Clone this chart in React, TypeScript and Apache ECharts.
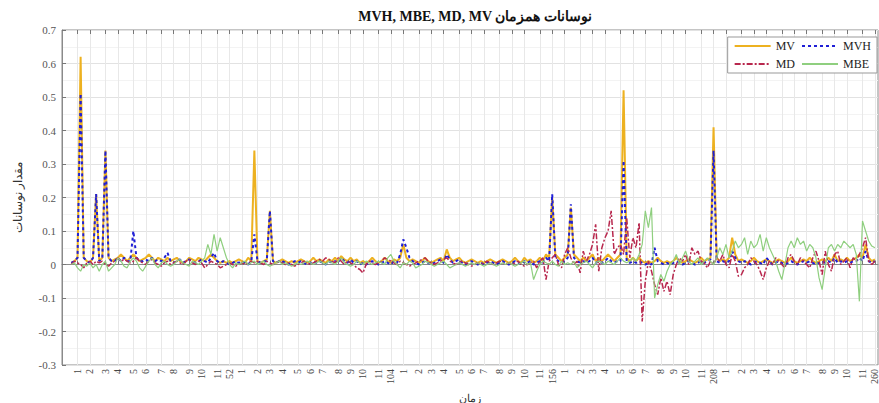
import React, { useEffect, useRef } from "react";
import * as echarts from "echarts";

const TITLE = "MVH, MBE, MD, MV نوسانات همزمان";
const Y_NAME = "مقدار نوسانات";
const X_NAME = "زمان";
const SERIES_NAMES = ["MV", "MVH", "MD", "MBE"];

// x axis spans weeks -2 .. 261; data for weeks 1..260
const FIRST_WEEK = -2;
const LAST_WEEK = 261;

const TICK_WEEKS = [
  3, 7, 12, 16, 21, 25, 30, 34, 39, 43, 48, 52,
  56, 61, 65, 69, 74, 78, 82, 87, 91, 95, 100, 104,
  108, 113, 117, 121, 126, 130, 134, 139, 143, 147, 152, 156,
  160, 165, 169, 173, 178, 182, 186, 191, 195, 199, 204, 208,
  212, 217, 221, 225, 230, 234, 238, 243, 247, 251, 256, 260,
];
const TICK_LABELS = [
  "1", "2", "3", "4", "5", "6", "7", "8", "9", "10", "11", "52",
  "1", "2", "3", "4", "5", "6", "7", "8", "9", "10", "11", "104",
  "1", "2", "3", "4", "5", "6", "7", "8", "9", "10", "11", "156",
  "1", "2", "3", "4", "5", "6", "7", "8", "9", "10", "11", "208",
  "1", "2", "3", "4", "5", "6", "7", "8", "9", "10", "11", "260",
];

const MV = [
  0.005, 0.01, 0.02, 0.62, 0.02, 0.01, 0.005, 0.02, 0.21, 0.01, 0.02, 0.34, 0.02, 0.01, 0.015, 0.02, 0.03, 0.02, 0.01, 0.02,
  0.03, 0.02, 0.01, 0.015, 0.02, 0.03, 0.02, 0.01, 0.02, 0.015, 0.01, 0.02, 0.01, 0.015, 0.02, 0.01, 0.005, 0.01, 0.02, 0.015,
  0.01, 0.02, 0.015, 0.01, 0.02, 0.03, 0.02, 0.01, 0.005, 0.01, 0.005, 0.01, 0.005, 0.01, 0.015, 0.01, 0.005, 0.02, 0.01, 0.34,
  0.01, 0.005, 0.01, 0.015, 0.16, 0.01, 0.005, 0.01, 0.015, 0.01, 0.005, 0.01, 0.005, 0.01, 0.015, 0.01, 0.005, 0.01, 0.02, 0.01,
  0.015, 0.01, 0.005, 0.015, 0.01, 0.02, 0.01, 0.025, 0.015, 0.01, 0.02, 0.01, 0.015, 0.005, 0.01, 0.005, 0.01, 0.02, 0.01, 0.005,
  0.01, 0.02, 0.01, 0.005, 0.015, 0.01, 0.02, 0.06, 0.02, 0.01, 0.015, 0.01, 0.005, 0.01, 0.02, 0.01, 0.005, 0.01, 0.015, 0.02,
  0.01, 0.045, 0.02, 0.01, 0.015, 0.02, 0.01, 0.005, 0.01, 0.015, 0.01, 0.005, 0.01, 0.005, 0.01, 0.015, 0.01, 0.005, 0.01, 0.015,
  0.01, 0.005, 0.01, 0.02, 0.01, 0.005, 0.02, 0.01, 0.015, 0.005, 0.01, 0.02, 0.01, 0.03, 0.02, 0.2, 0.03, 0.02, 0.01, 0.02,
  0.03, 0.17, 0.03, 0.02, 0.01, 0.02, 0.01, 0.02, 0.03, 0.01, 0.02, 0.01, 0.02, 0.03, 0.02, 0.01, 0.02, 0.03, 0.52, 0.02,
  0.01, 0.02, 0.01, 0.02, 0.01, 0.005, 0.01, 0.005, 0.01, 0.02, 0.01, 0.005, 0.01, 0.005, 0.01, 0.02, 0.01, 0.005, 0.01, 0.015,
  0.01, 0.005, 0.01, 0.02, 0.01, 0.015, 0.02, 0.41, 0.02, 0.01, 0.015, 0.01, 0.02, 0.08, 0.03, 0.01, 0.015, 0.01, 0.005, 0.01,
  0.02, 0.01, 0.005, 0.01, 0.015, 0.01, 0.005, 0.01, 0.015, 0.01, 0.005, 0.01, 0.02, 0.01, 0.005, 0.01, 0.015, 0.01, 0.02, 0.01,
  0.005, 0.01, 0.015, 0.01, 0.02, 0.01, 0.03, 0.01, 0.015, 0.01, 0.02, 0.01, 0.015, 0.02, 0.03, 0.02, 0.06, 0.02, 0.01, 0.015,
];

const MVH = [
  0.005, 0.01, 0.02, 0.51, 0.02, 0.01, 0.005, 0.02, 0.21, 0.01, 0.02, 0.34, 0.02, 0.01, 0.01, 0.02, 0.01, 0.02, 0.01, 0.01,
  0.1, 0.02, 0.01, 0.01, 0.015, 0.01, 0.02, 0.01, 0.015, 0.01, 0.02, 0.035, 0.01, 0.005, 0.01, 0.015, 0.005, 0.01, 0.015, 0.01,
  0.005, 0.01, 0.015, 0.01, 0.005, 0.02, 0.035, 0.01, 0.005, 0.01, 0.005, 0.0, 0.005, 0.01, 0.005, 0.01, 0.005, 0.0, 0.01, 0.09,
  0.01, 0.005, 0.01, 0.01, 0.16, 0.01, 0.005, 0.01, 0.01, 0.005, 0.0, 0.005, 0.01, 0.005, 0.01, 0.005, 0.0, 0.005, 0.01, 0.005,
  0.01, 0.005, 0.0, 0.01, 0.005, 0.01, 0.005, 0.02, 0.01, 0.005, 0.015, 0.005, 0.01, 0.0, 0.005, 0.0, 0.005, 0.01, 0.005, 0.0,
  0.005, 0.01, 0.005, 0.0, 0.01, 0.005, 0.03, 0.075, 0.05, 0.02, 0.01, 0.005, 0.0, 0.005, 0.01, 0.005, 0.0, 0.005, 0.01, 0.015,
  0.005, 0.03, 0.015, 0.005, 0.01, 0.015, 0.005, 0.0, 0.005, 0.01, 0.005, 0.0, 0.005, 0.0, 0.005, 0.01, 0.005, 0.0, 0.005, 0.01,
  0.005, 0.0, 0.005, 0.01, 0.005, 0.0, 0.01, 0.005, 0.01, 0.0, 0.005, 0.01, 0.005, 0.02, 0.01, 0.21, 0.02, 0.01, 0.005, 0.01,
  0.02, 0.18, 0.02, 0.01, 0.005, 0.01, 0.005, 0.01, 0.02, 0.005, 0.01, 0.005, 0.01, 0.02, 0.01, 0.005, 0.01, 0.01, 0.31, 0.01,
  0.005, 0.01, 0.005, 0.01, 0.005, 0.0, 0.005, 0.0, 0.05, 0.01, 0.005, 0.0, 0.005, 0.0, 0.005, 0.01, 0.005, 0.0, 0.005, 0.01,
  0.005, 0.0, 0.005, 0.01, 0.005, 0.01, 0.015, 0.34, 0.01, 0.005, 0.01, 0.005, 0.01, 0.04, 0.02, 0.01, 0.005, 0.01, 0.005, 0.0,
  0.005, 0.01, 0.005, 0.0, 0.02, 0.01, 0.0, 0.005, 0.01, 0.005, 0.0, 0.005, 0.01, 0.005, 0.0, 0.005, 0.01, 0.005, 0.01, 0.005,
  0.0, 0.005, 0.01, 0.005, 0.01, 0.005, 0.02, 0.005, 0.01, 0.005, 0.01, 0.005, 0.01, 0.01, 0.02, 0.01, 0.04, 0.01, 0.005, 0.01,
];

const MD = [
  0.0, 0.01, 0.005, 0.0, -0.01, 0.005, 0.01, 0.0, 0.01, 0.005, 0.01, 0.0, -0.005, 0.005, 0.01, 0.02, 0.01, 0.015, 0.01, 0.005,
  0.01, 0.02, 0.01, 0.005, 0.0, 0.01, 0.015, 0.005, 0.0, -0.005, 0.005, 0.01, 0.0, 0.005, 0.01, 0.005, 0.0, 0.01, 0.015, 0.005,
  0.0, 0.01, 0.005, -0.01, 0.0, 0.01, 0.005, 0.0, -0.01, -0.005, 0.0, 0.005, 0.0, -0.005, 0.0, 0.005, 0.0, 0.005, 0.01, 0.005,
  0.01, 0.005, 0.0, 0.01, 0.005, 0.0, 0.005, 0.01, 0.005, 0.0, 0.005, 0.0, -0.005, 0.0, 0.005, 0.01, 0.005, 0.0, 0.005, 0.01,
  0.015, 0.01, 0.02, 0.015, 0.01, 0.005, 0.02, 0.01, 0.0, 0.01, 0.005, 0.0, -0.01, -0.015, -0.025, 0.0, 0.01, 0.005, 0.0, 0.005,
  0.01, 0.02, 0.015, 0.01, 0.005, 0.0, 0.01, 0.005, 0.0, -0.005, 0.0, 0.005, 0.01, 0.015, 0.02, 0.01, 0.005, 0.0, 0.005, 0.01,
  0.015, 0.02, 0.01, 0.005, 0.0, 0.005, 0.01, 0.005, 0.0, -0.005, 0.0, 0.005, 0.0, 0.005, 0.01, 0.005, 0.0, 0.005, 0.01, 0.005,
  0.0, 0.005, 0.0, 0.005, 0.01, 0.0, -0.005, 0.0, 0.005, 0.01, -0.01, 0.01, 0.02, -0.045, 0.01, 0.02, 0.03, 0.0, -0.01, 0.03,
  0.05, 0.02, 0.0, 0.01, -0.025, 0.04, 0.01, 0.03, 0.06, 0.12, -0.02, 0.05, 0.08, 0.1, 0.16, 0.03, 0.05, 0.06, 0.03, 0.14,
  0.02, 0.08, 0.05, 0.125, -0.17, -0.05, 0.01, -0.02, -0.06, -0.09, -0.04, -0.08, -0.05, -0.09, -0.03, 0.0, 0.02, 0.01, 0.03, 0.0,
  0.05, 0.03, 0.04, 0.01, 0.005, -0.01, 0.01, 0.0, 0.02, 0.01, 0.03, 0.0, -0.01, 0.03, 0.01, -0.035, -0.03, -0.01, 0.0, 0.02,
  0.01, 0.0, -0.02, -0.045, -0.01, 0.01, 0.0, 0.02, 0.01, 0.0, -0.01, 0.02, 0.03, 0.01, 0.0, 0.02, 0.01, 0.0, -0.01, 0.02,
  0.04, 0.01, -0.03, 0.04, 0.0, -0.02, 0.03, 0.04, 0.0, 0.01, 0.02, -0.01, 0.02, 0.01, 0.03, 0.05, 0.08, 0.01, 0.0, 0.01,
];

const MBE = [
  0.0, 0.005, -0.01, -0.02, 0.0, -0.005, 0.005, -0.01, 0.0, -0.02, 0.0, 0.01, -0.02, -0.01, 0.0, 0.02, 0.01, -0.005, -0.01, 0.01,
  0.02, 0.01, -0.01, -0.02, -0.005, 0.01, 0.02, 0.0, -0.01, 0.005, 0.01, 0.0, -0.005, 0.0, 0.01, 0.015, 0.005, 0.0, -0.005, 0.01,
  0.005, 0.0, 0.01, 0.02, 0.06, 0.03, 0.09, 0.04, 0.08, 0.05, 0.02, 0.0, -0.01, 0.005, 0.0, 0.005, 0.01, 0.0, 0.005, 0.01,
  0.0, 0.005, 0.01, 0.0, -0.005, 0.0, 0.005, 0.01, 0.0, 0.005, 0.0, -0.005, 0.0, 0.005, 0.0, 0.005, 0.01, 0.005, 0.0, 0.005,
  0.01, 0.005, 0.0, 0.01, 0.005, 0.0, 0.01, 0.02, 0.005, 0.0, -0.005, 0.0, 0.01, 0.005, 0.0, 0.01, 0.005, 0.0, 0.005, 0.01,
  0.005, 0.0, 0.02, 0.03, 0.01, 0.0, -0.01, 0.005, 0.0, 0.01, 0.005, -0.01, -0.005, 0.0, 0.01, 0.005, 0.0, -0.005, 0.0, 0.005,
  0.01, 0.0, -0.01, -0.005, 0.0, 0.005, 0.0, -0.005, 0.0, 0.005, 0.0, 0.005, 0.0, -0.005, 0.0, 0.005, 0.0, -0.005, 0.0, 0.005,
  0.0, 0.005, 0.0, -0.005, 0.0, 0.005, 0.01, 0.0, 0.005, -0.045, -0.02, 0.0, 0.01, 0.005, 0.0, 0.01, 0.0, -0.005, 0.01, 0.0,
  0.005, 0.0, 0.01, -0.01, 0.0, 0.005, 0.01, 0.0, -0.01, 0.005, 0.01, 0.005, 0.0, 0.01, 0.005, 0.0, 0.01, 0.02, 0.01, 0.005,
  0.01, 0.02, 0.01, 0.03, 0.06, 0.16, 0.11, 0.17, -0.1, -0.06, -0.03, -0.05, -0.02, 0.0, 0.01, 0.03, 0.0, 0.02, 0.04, 0.01,
  0.0, 0.01, 0.02, 0.0, 0.01, 0.02, 0.01, 0.0, 0.02, 0.05, 0.03, 0.06, 0.02, 0.04, 0.07, 0.05, 0.06, 0.08, 0.03, 0.07,
  0.05, 0.06, 0.09, 0.04, 0.08, 0.05, 0.03, 0.01, -0.02, -0.045, 0.0, 0.05, 0.07, 0.05, 0.08, 0.06, 0.07, 0.04, 0.06, 0.05,
  0.02, -0.04, -0.075, -0.01, 0.05, 0.06, 0.04, 0.06, 0.05, 0.07, 0.06, 0.05, 0.06, 0.03, -0.11, 0.13, 0.1, 0.07, 0.055, 0.05,
];

const SERIF = "'Liberation Serif', 'DejaVu Serif', serif";

export default function App() {
  const ref = useRef<HTMLDivElement>(null);

  useEffect(() => {
    if (!ref.current) return;
    const chart = echarts.init(ref.current, null, { renderer: "svg" });

    const weeks: string[] = [];
    for (let w = FIRST_WEEK; w <= LAST_WEEK; w++) weeks.push(String(w));
    const tickIndex = new Map<number, string>();
    TICK_WEEKS.forEach((w, i) => tickIndex.set(w - FIRST_WEEK, TICK_LABELS[i]));
    const isTick = (idx: number) => tickIndex.has(idx);

    const toData = (vals: number[]) => {
      const out: (number | null)[] = [];
      for (let w = FIRST_WEEK; w <= LAST_WEEK; w++) {
        out.push(w >= 1 && w <= vals.length ? vals[w - 1] : null);
      }
      return out;
    };

    chart.setOption({
      animation: false,
      backgroundColor: "#ffffff",
      title: {
        text: TITLE,
        left: 470,
        textAlign: "center",
        top: 4,
        textStyle: { fontFamily: SERIF, fontSize: 14, fontWeight: "bold", color: "#111" },
      },
      legend: {
        right: 2,
        top: 37,
        width: 150,
        orient: "horizontal",
        itemWidth: 36,
        itemHeight: 8,
        itemGap: 6,
        padding: [3, 6, 3, 6],
        backgroundColor: "#ffffff",
        borderColor: "#999",
        borderWidth: 1,
        borderRadius: 0,
        itemStyle: { opacity: 0 },
        textStyle: { fontFamily: SERIF, fontSize: 12, color: "#222" },
        data: SERIES_NAMES,
      },
      grid: {
        left: 62,
        right: 1,
        top: 30,
        bottom: 38,
        outerBoundsMode: "none",
        show: true,
        borderColor: "#8a8a8a",
        borderWidth: 1,
        backgroundColor: "transparent",
      },
      xAxis: [
        {
          type: "category",
          data: weeks,
          boundaryGap: false,
          name: X_NAME,
          nameLocation: "middle",
          nameGap: 16,
          nameTextStyle: { fontFamily: SERIF, fontSize: 11, color: "#333", lineHeight: 13 },
          axisLine: { show: true, lineStyle: { color: "#8a8a8a" } },
          axisTick: {
            show: true,
            inside: true,
            length: 4,
            interval: (idx: number) => isTick(idx),
            lineStyle: { color: "#777" },
          },
          axisLabel: {
            show: true,
            rotate: 90,
            margin: 4,
            interval: (idx: number) => isTick(idx),
            formatter: (_v: string, idx: number) => tickIndex.get(idx) ?? "",
            fontFamily: SERIF,
            fontSize: 10,
            color: "#444",
          },
          splitLine: {
            show: true,
            interval: (idx: number) => isTick(idx),
            lineStyle: { color: "#e8e8e8", width: 1 },
          },
        },
        {
          type: "category",
          data: weeks,
          boundaryGap: false,
          position: "top",
          axisLine: { show: false },
          axisTick: {
            show: true,
            inside: true,
            length: 4,
            interval: (idx: number) => isTick(idx),
            lineStyle: { color: "#777" },
          },
          axisLabel: { show: false },
          splitLine: { show: false },
        },
      ],
      yAxis: {
        type: "value",
        min: -0.3,
        max: 0.7,
        interval: 0.1,
        name: Y_NAME,
        nameLocation: "middle",
        nameRotate: 90,
        nameGap: 38,
        nameTextStyle: { fontFamily: SERIF, fontSize: 12, color: "#333" },
        axisLine: { show: true, lineStyle: { color: "#8a8a8a" } },
        axisTick: { show: true, inside: true, length: 4, lineStyle: { color: "#777" } },
        axisLabel: {
          fontFamily: SERIF,
          fontSize: 11,
          color: "#555",
          margin: 6,
          formatter: (v: number) => (Math.abs(v) < 1e-9 ? "0" : v.toFixed(1)),
        },
        splitLine: { show: true, lineStyle: { color: "#e2e2e2", width: 1 } },
        minorTick: { show: false, splitNumber: 2 },
        minorSplitLine: { show: true, lineStyle: { color: "#f3f3f3", width: 1 } },
      },
      series: [
        {
          name: "MV",
          type: "line",
          data: toData(MV),
          symbol: "none",
          color: "#EDB120",
          lineStyle: { color: "#EDB120", width: 2, type: "solid" },
          z: 2,
        },
        {
          name: "MVH",
          type: "line",
          data: toData(MVH),
          symbol: "none",
          color: "#1f1fd6",
          lineStyle: { color: "#1f1fd6", width: 2, type: [3, 3] },
          z: 3,
        },
        {
          name: "MD",
          type: "line",
          data: toData(MD),
          symbol: "none",
          color: "#b8284e",
          lineStyle: { color: "#b8284e", width: 1.5, type: [6, 2, 2, 2] },
          z: 4,
        },
        {
          name: "MBE",
          type: "line",
          data: toData(MBE),
          symbol: "none",
          color: "#8fcf7f",
          lineStyle: { color: "#8fcf7f", width: 1.2, type: "solid" },
          z: 5,
        },
      ],
    });

    return () => chart.dispose();
  }, []);

  return <div ref={ref} style={{ width: 879, height: 403, position: "absolute", left: 0, top: 0 }} />;
}
